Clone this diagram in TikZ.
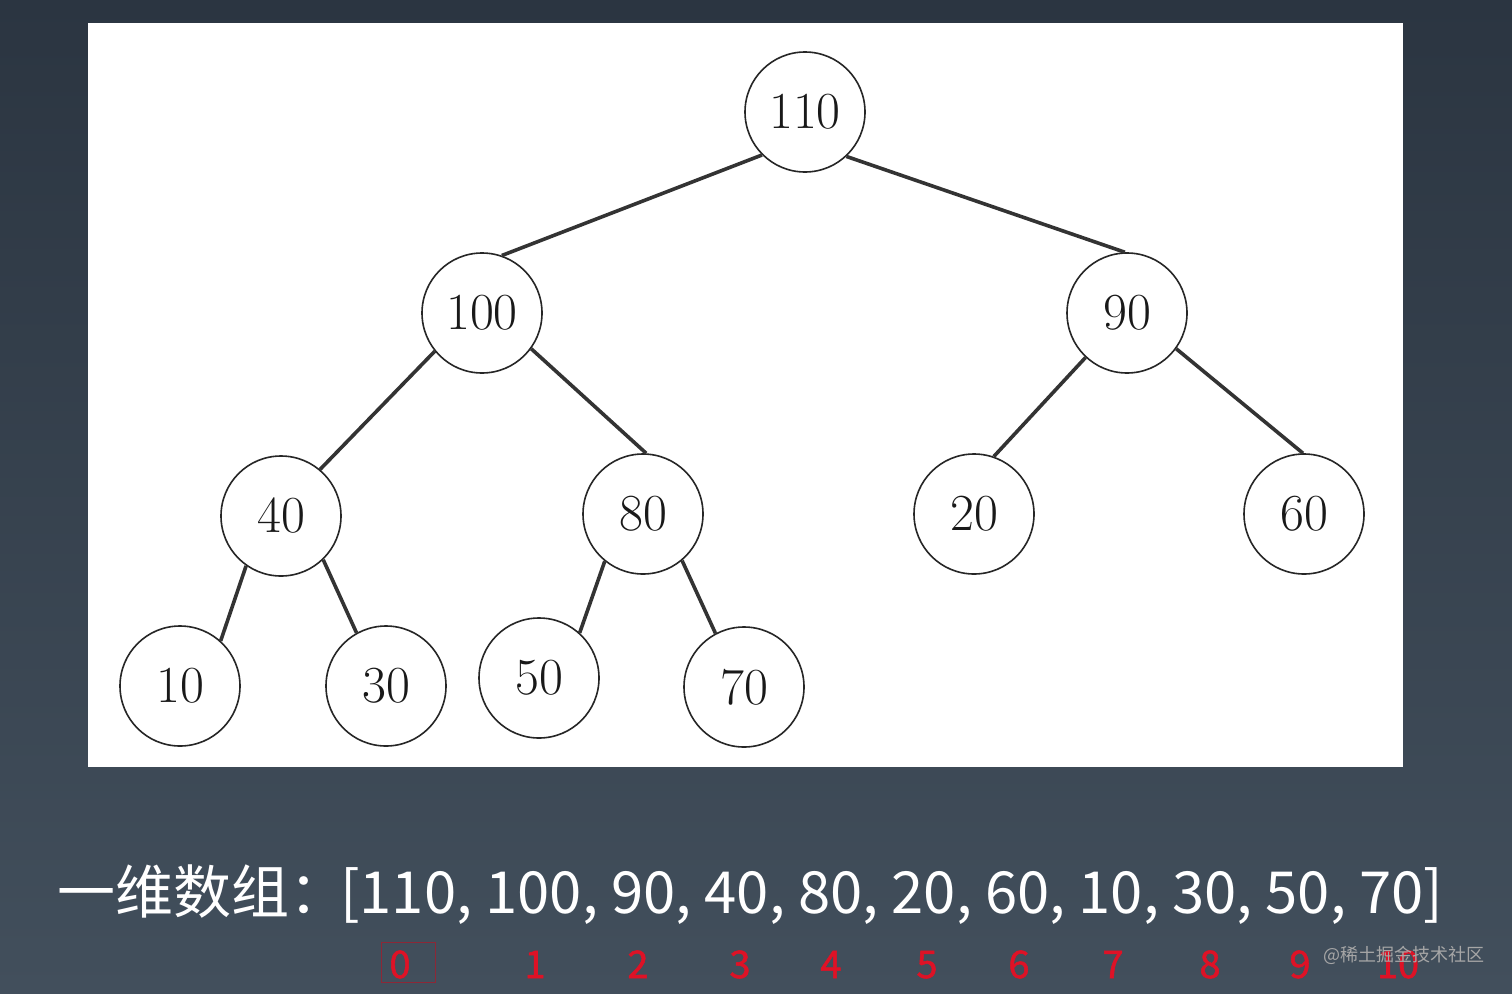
\documentclass[tikz,border=0pt]{standalone}
\usepackage{fontspec}
\newfontfamily\cjk{Noto Sans CJK SC}
\newfontfamily\cjkmed[FakeBold=1.4]{Noto Sans CJK SC}
\definecolor{idxred}{RGB}{222,18,38}
\definecolor{boxred}{RGB}{140,40,55}
\definecolor{bgtop}{RGB}{43,53,65}
\definecolor{bgbot}{RGB}{66,79,92}
\begin{document}
\begin{tikzpicture}[x=1pt,y=-1pt,
  tn/.style={circle,draw=black!85,line width=1.6pt,minimum size=120pt,inner sep=0pt,
    font=\fontsize{52}{52}\selectfont,text=black!90},
  edge/.style={line width=3.6pt,draw=black!80},
  idx/.style={text=idxred,font=\cjkmed\fontsize{38}{38}\selectfont,inner sep=0pt,anchor=base}]
\useasboundingbox (0,0) rectangle (1512,993);
\shade[top color=bgtop,bottom color=bgbot] (0,0) rectangle (1512,993);
\fill[white] (88,23) rectangle (1403,767);
\node[tn] (n110) at (805,112) {110};
\node[tn] (n100) at (482,313) {100};
\node[tn] (n90) at (1127,313) {90};
\node[tn] (n40) at (281,516) {40};
\node[tn] (n80) at (643,514) {80};
\node[tn] (n20) at (974,514) {20};
\node[tn] (n60) at (1304,514) {60};
\node[tn] (n10) at (180,686) {10};
\node[tn] (n30) at (386,686) {30};
\node[tn] (n50) at (539,678) {50};
\node[tn] (n70) at (744,687) {70};
\draw[edge] (n110.-135) -- (n100.71);
\draw[edge] (n110.-47) -- (n90.92);
\draw[edge] (n100.-141) -- (n40.50);
\draw[edge] (n100.-36) -- (n80.87);
\draw[edge] (n90.-133) -- (n20.71);
\draw[edge] (n90.-36) -- (n60.91);
\draw[edge] (n40.-125) -- (n10.48);
\draw[edge] (n40.-46) -- (n30.119);
\draw[edge] (n80.-129) -- (n50.48);
\draw[edge] (n80.-50) -- (n70.118);
\node[anchor=base west,text=white,font=\cjk\fontsize{58}{58}\selectfont,inner sep=0pt] (lab) at (57,913) {一维数组：};
\node[anchor=base west,text=white,font=\cjk\fontsize{58}{58}\selectfont,inner sep=0pt] (arr) at (340,913) {[110, 100, 90, 40, 80, 20, 60, 10, 30, 50, 70]};
\node[idx] (i0) at (400,978) {0};
\node[idx] (i1) at (535,978) {1};
\node[idx] (i2) at (638,978) {2};
\node[idx] (i3) at (740,978) {3};
\node[idx] (i4) at (831,978) {4};
\node[idx] (i5) at (927,978) {5};
\node[idx] (i6) at (1019,978) {6};
\node[idx] (i7) at (1113,978) {7};
\node[idx] (i8) at (1210,978) {8};
\node[idx] (i9) at (1300,978) {9};
\node[idx] (i10) at (1398,978) {10};
\draw[boxred,line width=0.6pt] (381,942) rectangle (435,982);
\node[anchor=west,text=gray!70,font=\cjk\fontsize{18}{18}\selectfont,inner sep=0pt] (wm) at (1323,955) {@稀土掘金技术社区};
\end{tikzpicture}
\end{document}
